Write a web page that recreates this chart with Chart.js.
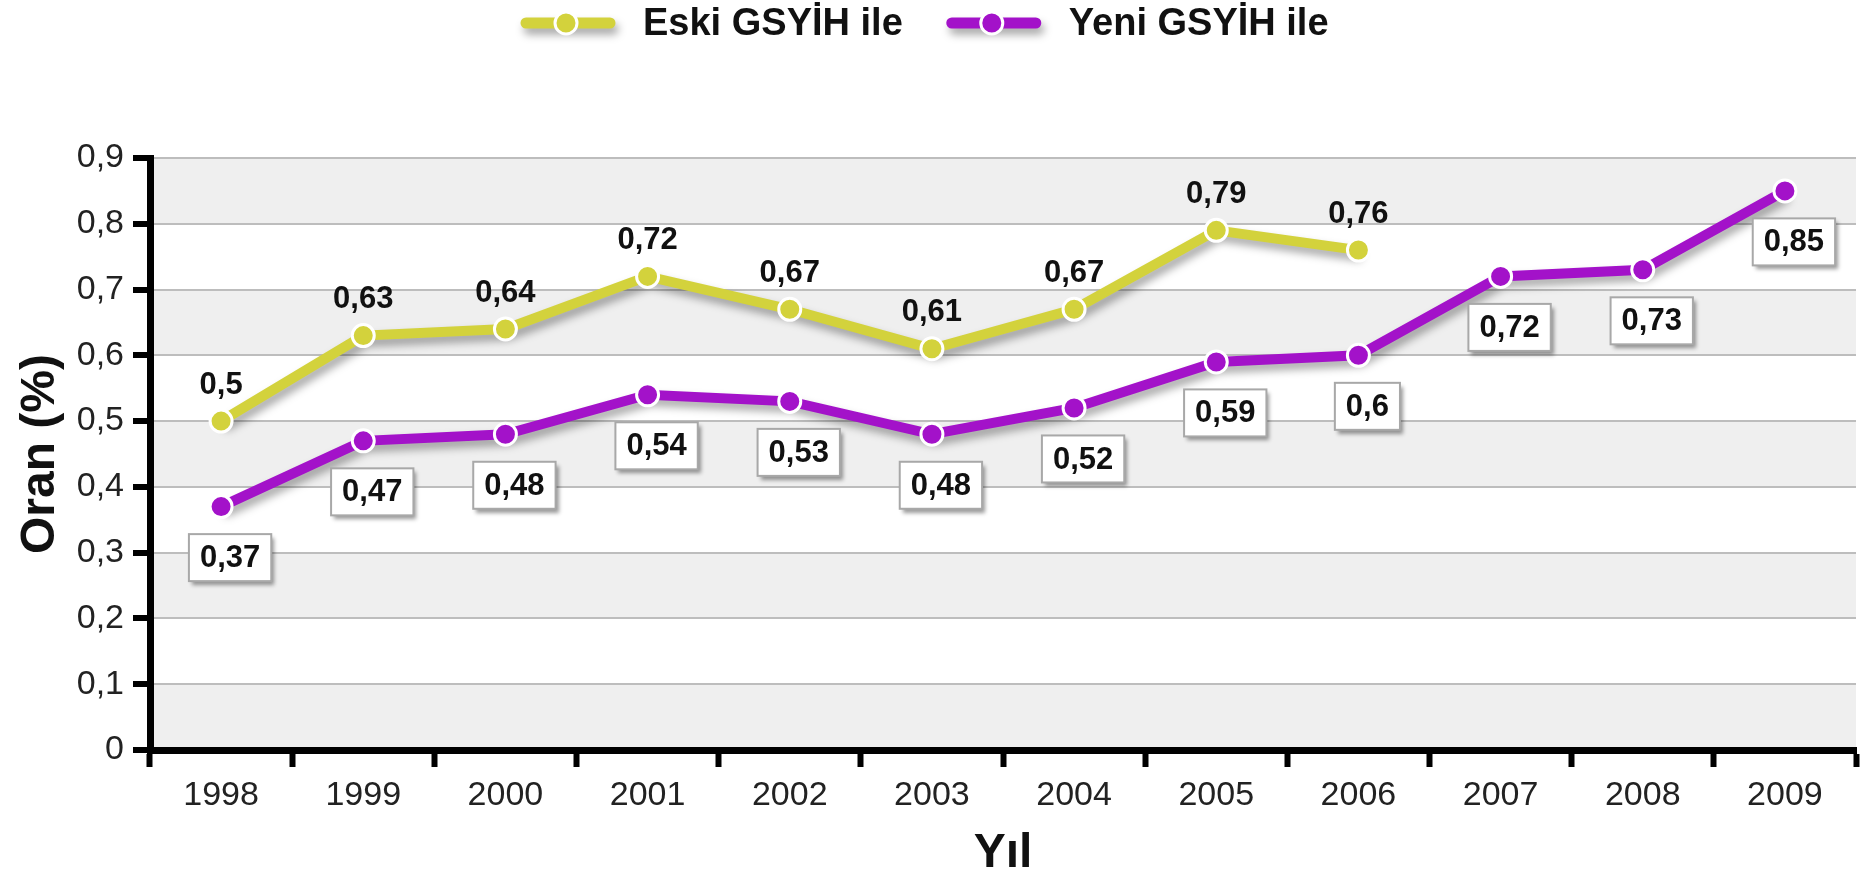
<!DOCTYPE html>
<html lang="tr">
  <head>
    <meta charset="utf-8">
    <script src="https://cdn.jsdelivr.net/npm/chart.js@4.4.1/dist/chart.umd.min.js"></script>
    <title>Oran (%)</title>
    <style>
      body { margin:0; background:#fff; }
      canvas { display:block; }
    </style>
  </head>
  <body>
    <canvas id="myChart" width="1870" height="880"></canvas>

    <script>
      // values
      var years = ['1998','1999','2000','2001','2002','2003','2004','2005','2006','2007','2008','2009'];
      var eskiValues = [0.5,0.63,0.64,0.72,0.67,0.61,0.67,0.79,0.76,null,null,null];
      var yeniValues = [0.37,0.47,0.48,0.54,0.53,0.48,0.52,0.59,0.6,0.72,0.73,0.85];
      var seriesNames = ['Eski GSYİH ile','Yeni GSYİH ile'];
      var yTickLabels = ['0','0,1','0,2','0,3','0,4','0,5','0,6','0,7','0,8','0,9'];

      var FONT = '"Liberation Sans", Arial, Helvetica, sans-serif';
      var yellow = '#d3d23c';
      var purple = '#a312c9';

      function fmt(v) { return String(v).replace('.', ','); }

      // grey / white bands behind the plot
      var bands = {
        id: 'bands',
        beforeDraw: function(chart) {
          var ctx = chart.ctx, a = chart.chartArea, y = chart.scales.y;
          ctx.save();
          ctx.fillStyle = '#fff';
          ctx.fillRect(0, 0, chart.width, chart.height);
          for (var i = 0; i < yTickLabels.length - 1; i++) {
            if (i % 2 == 0) {
              var top = y.getPixelForValue((i + 1) / 10);
              var bot = y.getPixelForValue(i / 10);
              ctx.fillStyle = '#efefef';
              ctx.fillRect(a.left, top, a.right - a.left, bot - top);
            }
          }
          ctx.restore();
        }
      };

      // drop shadow under lines (points drawn without it)
      var shadow = {
        id: 'shadow',
        beforeDatasetDraw: function(chart, args) {
          var ctx = chart.ctx;
          args.meta.data.forEach(function(el) {
            if (el._noShadow) return;
            var d = el.draw;
            el.draw = function(c, area) {
              c.save();
              c.shadowColor = 'rgba(0,0,0,0)';
              d.call(this, c, area);
              c.restore();
            };
            el._noShadow = true;
          });
          ctx.save();
          ctx.shadowColor = 'rgba(0,0,0,0.35)';
          ctx.shadowBlur = 8;
          ctx.shadowOffsetX = 3;
          ctx.shadowOffsetY = 6;
        },
        afterDatasetDraw: function(chart) {
          chart.ctx.restore();
        }
      };

      // value labels: plain above for first set, boxed below for second
      var valueLabels = {
        id: 'valueLabels',
        afterDatasetsDraw: function(chart) {
          var ctx = chart.ctx;
          ctx.save();
          ctx.font = 'bold 31px ' + FONT;
          ctx.textAlign = 'center';
          ctx.textBaseline = 'middle';
          chart.getDatasetMeta(0).data.forEach(function(p, i) {
            var v = eskiValues[i];
            if (v == null) return;
            ctx.fillStyle = '#111';
            ctx.fillText(fmt(v), p.x, p.y - 36);
          });
          chart.getDatasetMeta(1).data.forEach(function(p, i) {
            var v = yeniValues[i];
            var t = fmt(v);
            var w = ctx.measureText(t).width + 22;
            var h = 47;
            var cx = p.x + 9, cy = p.y + 51;
            ctx.save();
            ctx.shadowColor = 'rgba(0,0,0,0.4)';
            ctx.shadowBlur = 4;
            ctx.shadowOffsetX = 3;
            ctx.shadowOffsetY = 4;
            ctx.fillStyle = '#fff';
            ctx.fillRect(cx - w / 2, cy - h / 2, w, h);
            ctx.restore();
            ctx.strokeStyle = '#a8a8a8';
            ctx.lineWidth = 2;
            ctx.strokeRect(cx - w / 2, cy - h / 2, w, h);
            ctx.fillStyle = '#111';
            ctx.fillText(t, cx, cy + 1);
          });
          ctx.restore();
        }
      };

      // legend on top
      var topLegend = {
        id: 'topLegend',
        afterDraw: function(chart) {
          var ctx = chart.ctx;
          var x = 521, y = 23;
          ctx.save();
          ctx.font = 'bold 38px ' + FONT;
          ctx.textBaseline = 'middle';
          chart.data.datasets.forEach(function(ds) {
            ctx.save();
            ctx.shadowColor = 'rgba(0,0,0,0.35)';
            ctx.shadowBlur = 8;
            ctx.shadowOffsetX = 3;
            ctx.shadowOffsetY = 6;
            ctx.strokeStyle = ds.borderColor;
            ctx.lineWidth = 11;
            ctx.lineCap = 'round';
            ctx.beginPath();
            ctx.moveTo(x + 5, y);
            ctx.lineTo(x + 89, y);
            ctx.stroke();
            ctx.restore();
            ctx.beginPath();
            ctx.arc(x + 45, y, 11, 0, Math.PI * 2);
            ctx.fillStyle = ds.backgroundColor;
            ctx.fill();
            ctx.lineWidth = 3;
            ctx.strokeStyle = '#fff';
            ctx.stroke();
            ctx.fillStyle = '#111';
            ctx.fillText(ds.label, x + 122, y + 2);
            x += 122 + ctx.measureText(ds.label).width + 44;
          });
          ctx.restore();
        }
      };

      var myChart = document.getElementById('myChart').getContext('2d');
      var chart = new Chart(myChart, {
        type: 'line',
        data: {
          labels: years,
          datasets: [
            {
              label: seriesNames[0],
              data: eskiValues,
              borderColor: yellow,
              backgroundColor: yellow,
              borderWidth: 10,
              pointRadius: 11,
              pointBorderWidth: 3,
              pointBorderColor: '#fff',
              pointBackgroundColor: yellow,
              tension: 0,
              spanGaps: false
            },
            {
              label: seriesNames[1],
              data: yeniValues,
              borderColor: purple,
              backgroundColor: purple,
              borderWidth: 10,
              pointRadius: 11,
              pointBorderWidth: 3,
              pointBorderColor: '#fff',
              pointBackgroundColor: purple,
              tension: 0
            }
          ]
        },
        options: {
          responsive: false,
          animation: false,
          devicePixelRatio: 1,
          layout: { padding: { top: 158, right: 10, left: 0, bottom: 0 } },
          plugins: {
            legend: { display: false },
            tooltip: { enabled: false }
          },
          scales: {
            x: {
              offset: true,
              grid: {
                offset: true,
                drawOnChartArea: false,
                drawTicks: true,
                tickLength: 17,
                tickWidth: 6,
                tickColor: '#000'
              },
              border: { display: true, color: '#000', width: 7 },
              ticks: {
                color: '#222',
                padding: 8,
                font: { family: FONT, size: 34 }
              },
              title: {
                display: true,
                text: 'Yıl',
                color: '#111',
                font: { family: FONT, size: 48, weight: 'bold', lineHeight: 1 },
                padding: { top: 0, bottom: 2 }
              },
              afterFit: function(s) { s.height = 130; }
            },
            y: {
              min: 0,
              max: 0.9,
              grid: {
                color: '#bdbdbd',
                lineWidth: 2,
                drawTicks: true,
                tickLength: 17,
                tickWidth: 6,
                tickColor: '#000'
              },
              border: { display: true, color: '#000', width: 7 },
              ticks: {
                stepSize: 0.1,
                color: '#222',
                padding: 9,
                font: { family: FONT, size: 34 },
                callback: function(v, i) { return yTickLabels[i]; }
              },
              title: {
                display: true,
                text: 'Oran (%)',
                color: '#111',
                font: { family: FONT, size: 48, weight: 'bold', lineHeight: 1 },
                padding: { top: 17, bottom: 0 }
              },
              afterFit: function(s) { s.width = 150; }
            }
          }
        },
        plugins: [bands, shadow, valueLabels, topLegend]
      });
    </script>
  </body>
</html>
